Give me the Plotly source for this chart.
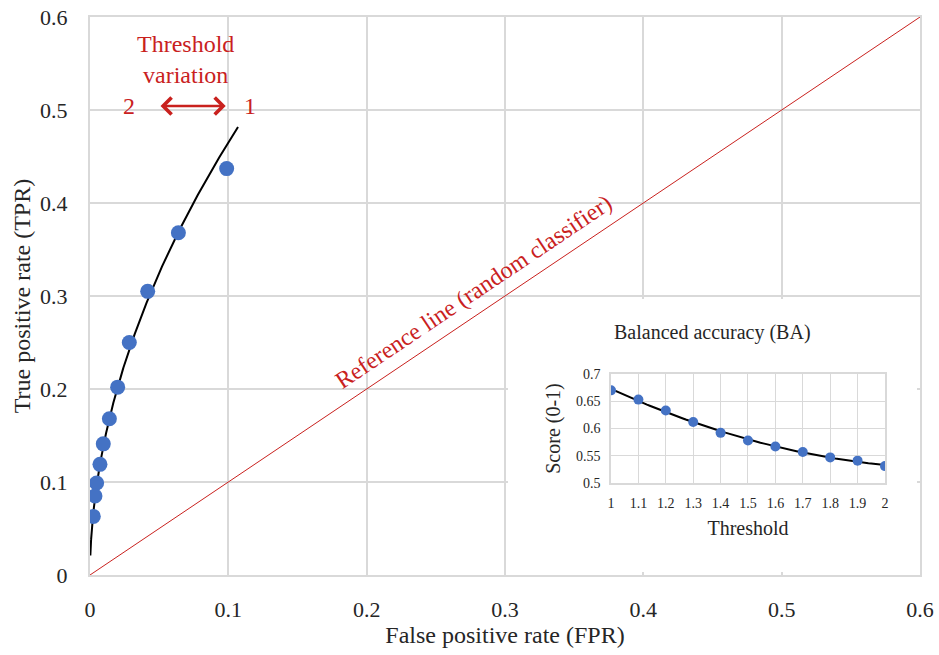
import numpy as np
import plotly.graph_objects as go

# Operating points of the classifier as the decision threshold goes 1.0 -> 2.0
THRESHOLDS = [1.0, 1.1, 1.2, 1.3, 1.4, 1.5, 1.6, 1.7, 1.8, 1.9, 2.0]
FPR = [0.0988, 0.0639, 0.0417, 0.0284, 0.0200, 0.0140, 0.0096, 0.0072, 0.0048, 0.0036, 0.0024]
TPR = [0.437, 0.368, 0.305, 0.250, 0.202, 0.168, 0.141, 0.119, 0.099, 0.085, 0.063]
# Balanced accuracy for the same thresholds
BA = [0.670, 0.653, 0.633, 0.612, 0.592, 0.578, 0.567, 0.557, 0.547, 0.541, 0.531]

MAIN_RANGE = [0, 0.6]
REF_LINE = [0, 0.6]
TREND_SPAN = (0.00025, 0.107)
INSET_X_RANGE = [1, 2]
INSET_Y_RANGE = [0.5, 0.7]

FONT = "Liberation Serif"
TEXT = "#262626"
RED = "#C9211E"
BLUE = "#4472C4"
GRID = "#d9d9d9"

# Power-law trendline TPR = a * FPR^b (least squares in log space)
b, ln_a = np.polyfit(np.log(FPR), np.log(TPR), 1)
trend_x = np.geomspace(TREND_SPAN[0], TREND_SPAN[1], 600)
trend_y = np.exp(ln_a) * trend_x ** b

# Quadratic trendline for balanced accuracy
ba_coef = np.polyfit(THRESHOLDS, BA, 2)
ba_x = np.linspace(INSET_X_RANGE[0], INSET_X_RANGE[1], 100)
ba_y = np.polyval(ba_coef, ba_x)


def serif(size, color=TEXT):
    return dict(family=FONT, size=size, color=color)


fig = go.Figure()

# Main ROC panel
fig.add_trace(go.Scatter(x=REF_LINE, y=REF_LINE, mode="lines",
                         line=dict(color=RED, width=1), hoverinfo="skip"))
fig.add_trace(go.Scatter(x=trend_x, y=trend_y, mode="lines",
                         line=dict(color="black", width=2), hoverinfo="skip"))
fig.add_trace(go.Scatter(x=FPR, y=TPR, mode="markers",
                         marker=dict(color=BLUE, size=15)))

# Blank white panel behind the inset
fig.add_trace(go.Scatter(x=[None], y=[None], xaxis="x2", yaxis="y2",
                         mode="markers", hoverinfo="skip"))

# Inset: balanced accuracy vs threshold
fig.add_trace(go.Scatter(x=ba_x, y=ba_y, xaxis="x3", yaxis="y3", mode="lines",
                         line=dict(color="black", width=2), hoverinfo="skip"))
fig.add_trace(go.Scatter(x=THRESHOLDS, y=BA, xaxis="x3", yaxis="y3", mode="markers",
                         marker=dict(color=BLUE, size=10)))

main_axis = dict(range=MAIN_RANGE, dtick=0.1, tick0=0, showgrid=True, gridcolor=GRID,
                 gridwidth=2, showline=True, linecolor=GRID, linewidth=2, mirror=True,
                 zeroline=False, ticks="", automargin=False, tickfont=serif(22))

inset_axis = dict(showgrid=True, gridcolor=GRID, gridwidth=1.3, showline=True,
                  linecolor=GRID, linewidth=1.5, mirror=True, zeroline=False, ticks="",
                  automargin=False, tickfont=serif(14))

fig.update_layout(
    width=939, height=655,
    margin=dict(l=90, r=19, t=17, b=80),
    paper_bgcolor="white", plot_bgcolor="white",
    showlegend=False,
    xaxis=dict(main_axis, domain=[0, 1], ticklabelstandoff=14,
               title=dict(text="False positive rate (FPR)", font=serif(24), standoff=4)),
    yaxis=dict(main_axis, domain=[0, 1], ticklabelstandoff=16,
               title=dict(text="True positive rate (TPR)", font=serif(24), standoff=3)),
    xaxis2=dict(domain=[0.5036, 0.9964], anchor="y2", visible=False, range=[0, 1]),
    yaxis2=dict(domain=[0.0054, 0.4946], anchor="x2", visible=False, range=[0, 1]),
    xaxis3=dict(inset_axis, domain=[0.6277, 0.9578], anchor="y3",
                range=INSET_X_RANGE, dtick=0.1, tick0=1, ticklabelstandoff=6,
                title=dict(text="Threshold", font=serif(20), standoff=11)),
    yaxis3=dict(inset_axis, domain=[0.1649, 0.3602], anchor="x3",
                range=INSET_Y_RANGE, dtick=0.05, tick0=0.5, ticklabelstandoff=6,
                title=dict(text="Score (0-1)", font=serif(20), standoff=10)),
)

fig.add_annotation(x=0.0687, y=0.5538, xref="x", yref="y", text="Threshold<br>variation",
                   showarrow=False, font=serif(24, RED))
fig.add_annotation(x=0.0284, y=0.5043, xref="x", yref="y", text="2",
                   showarrow=False, font=serif(24, RED))
fig.add_annotation(x=0.1157, y=0.5043, xref="x", yref="y", text="1",
                   showarrow=False, font=serif(24, RED))
fig.add_annotation(x=0.0981, y=0.5043, ax=0.0499, ay=0.5043, xref="x", yref="y",
                   axref="x", ayref="y", text="", showarrow=True, arrowside="end+start",
                   arrowhead=4, startarrowhead=4, arrowsize=1.3, startarrowsize=1.3,
                   arrowwidth=2.5, arrowcolor=RED, standoff=0, startstandoff=0)
fig.add_annotation(x=0.2769, y=0.3043, xref="x", yref="y",
                   text="Reference line (random classifier)", showarrow=False,
                   textangle=-33.9, font=serif(24, RED))
fig.add_annotation(x=0.7506, y=0.4337, xref="paper", yref="paper",
                   xanchor="center", yanchor="middle",
                   text="Balanced accuracy (BA)", showarrow=False, font=serif(20))

fig.write_html("out.html")
